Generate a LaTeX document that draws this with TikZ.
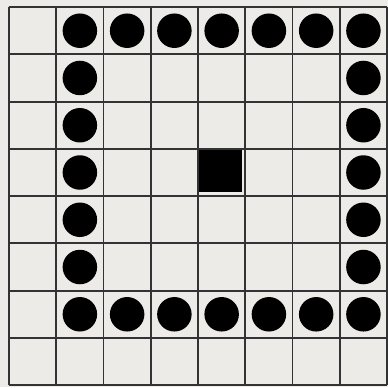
\documentclass[tikz,border=0pt]{standalone}
\usepackage{xcolor,tikz}
\definecolor{paper}{RGB}{236,235,231}
\definecolor{ink}{RGB}{28,28,32}
\tikzset{
  gridline/.style={draw=ink!90,line width=1.1pt},
  stone/.style={circle,fill=black,inner sep=0pt,minimum size=7.3mm},
  block/.style={rectangle,fill=black,inner sep=0pt,minimum size=9mm}
}

\begin{document}
\begin{tikzpicture}
  \fill[paper] (-0.19,-0.04) rectangle (8.02,8.15);
  \useasboundingbox (-0.19,-0.04) rectangle (8.02,8.15);
  \draw[gridline] (0,0) grid (8,8);

  % ring of stones
  \foreach \c in {1,...,7}{
    \node[stone] (top\c) at (\c+0.5,7.5) {};
    \node[stone] (bot\c) at (\c+0.5,1.5) {};
  }
  \foreach \r in {1,...,5}{
    \node[stone] (left\r) at (1.5,7.5-\r) {};
    \node[stone] (right\r) at (7.5,7.5-\r) {};
  }

  \node[block] (centre) at (4.47,4.53) {};
\end{tikzpicture}
\end{document}
